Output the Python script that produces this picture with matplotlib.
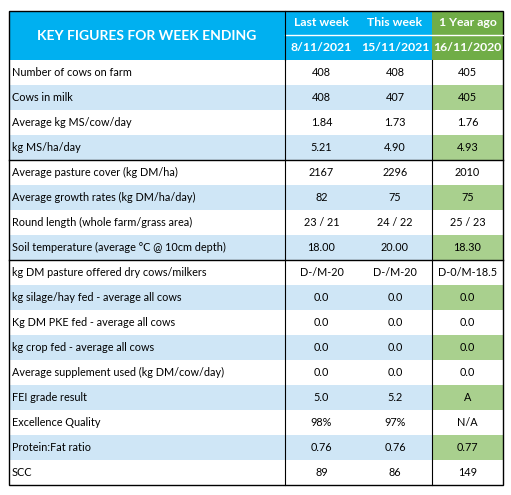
import matplotlib.pyplot as plt
from matplotlib.patches import Rectangle

# Table contents
row_labels = [
    "Number of cows on farm", "Cows in milk", "Average kg MS/cow/day", "kg MS/ha/day",
    "Average pasture cover (kg DM/ha)", "Average growth rates (kg DM/ha/day)",
    "Round length (whole farm/grass area)", "Soil temperature (average °C @ 10cm depth)",
    "kg DM pasture offered dry cows/milkers", "kg silage/hay fed - average all cows",
    "Kg DM PKE fed - average all cows", "kg crop fed - average all cows",
    "Average supplement used (kg DM/cow/day)", "FEI grade result", "Excellence Quality",
    "Protein:Fat ratio", "SCC",
]
last_week = ["408", "408", "1.84", "5.21", "2167", "82", "23 / 21", "18.00", "D-/M-20",
             "0.0", "0.0", "0.0", "0.0", "5.0", "98%", "0.76", "89"]
this_week = ["408", "407", "1.73", "4.90", "2296", "75", "24 / 22", "20.00", "D-/M-20",
             "0.0", "0.0", "0.0", "0.0", "5.2", "97%", "0.76", "86"]
year_ago = ["405", "405", "1.76", "4.93", "2010", "75", "25 / 23", "18.30", "D-0/M-18.5",
            "0.0", "0.0", "0.0", "0.0", "A", "N/A", "0.77", "149"]
col_heads = ["Last week", "This week", "1 Year ago"]
col_dates = ["8/11/2021", "15/11/2021", "16/11/2020"]

BLUE = "#00b0f0"
GREEN = "#70ad47"
LIGHT_BLUE = "#cfe6f6"
LIGHT_GREEN = "#a9d08e"

plt.rcParams["font.family"] = ["Lato", "DejaVu Sans"]

fig = plt.figure(figsize=(5.11, 4.95), dpi=100)
ax = fig.add_axes([0, 0, 1, 1])
ax.set_xlim(0, 511)
ax.set_ylim(495, 0)
ax.axis("off")

x0, x1, x2, x3, x4 = 9, 285, 358, 432, 503
y_top, y_mid, y_head = 11, 35, 60
row_h = 25

# Header
ax.add_patch(Rectangle((x0, y_top), x3 - x0, y_head - y_top, color=BLUE, lw=0))
ax.add_patch(Rectangle((x3, y_top), x4 - x3, y_head - y_top, color=GREEN, lw=0))
ax.text((x0 + x1) / 2, (y_top + y_head) / 2, "KEY FIGURES FOR WEEK ENDING",
        ha="center", va="center", color="white", fontsize=10, fontweight="bold")
centers = [(x1 + x2) / 2, (x2 + x3) / 2, (x3 + x4) / 2]
for cx, h, d in zip(centers, col_heads, col_dates):
    ax.text(cx, (y_top + y_mid) / 2, h, ha="center", va="center", color="white",
            fontsize=8.8, fontweight="bold")
    ax.text(cx, (y_mid + y_head) / 2, d, ha="center", va="center", color="white",
            fontsize=8.8, fontweight="bold")
ax.plot([x1, x4], [y_mid, y_mid], color="white", lw=1)
ax.plot([x1, x1], [y_top, y_head], color="black", lw=0.8)

# Body rows
for i, label in enumerate(row_labels):
    yt = y_head + i * row_h
    yc = yt + row_h / 2
    if i % 2 == 1:
        ax.add_patch(Rectangle((x0, yt), x3 - x0, row_h, color=LIGHT_BLUE, lw=0))
        ax.add_patch(Rectangle((x3, yt), x4 - x3, row_h, color=LIGHT_GREEN, lw=0))
    ax.text(x0 + 3, yc, label, ha="left", va="center", fontsize=7.8)
    for cx, v in zip(centers, [last_week[i], this_week[i], year_ago[i]]):
        ax.text(cx, yc, v, ha="center", va="center", fontsize=7.8)

y_bot = y_head + len(row_labels) * row_h
for yy in [y_head + 4 * row_h, y_head + 8 * row_h]:
    ax.plot([x0, x4], [yy, yy], color="black", lw=1)
ax.plot([x1, x1], [y_head, y_bot], color="black", lw=0.8)
ax.plot([x3, x3], [y_head, y_bot], color="black", lw=0.8)
ax.add_patch(Rectangle((x0, y_top), x4 - x0, y_bot - y_top, fill=False, ec="black", lw=1))

fig.savefig("out.png", dpi=100)
